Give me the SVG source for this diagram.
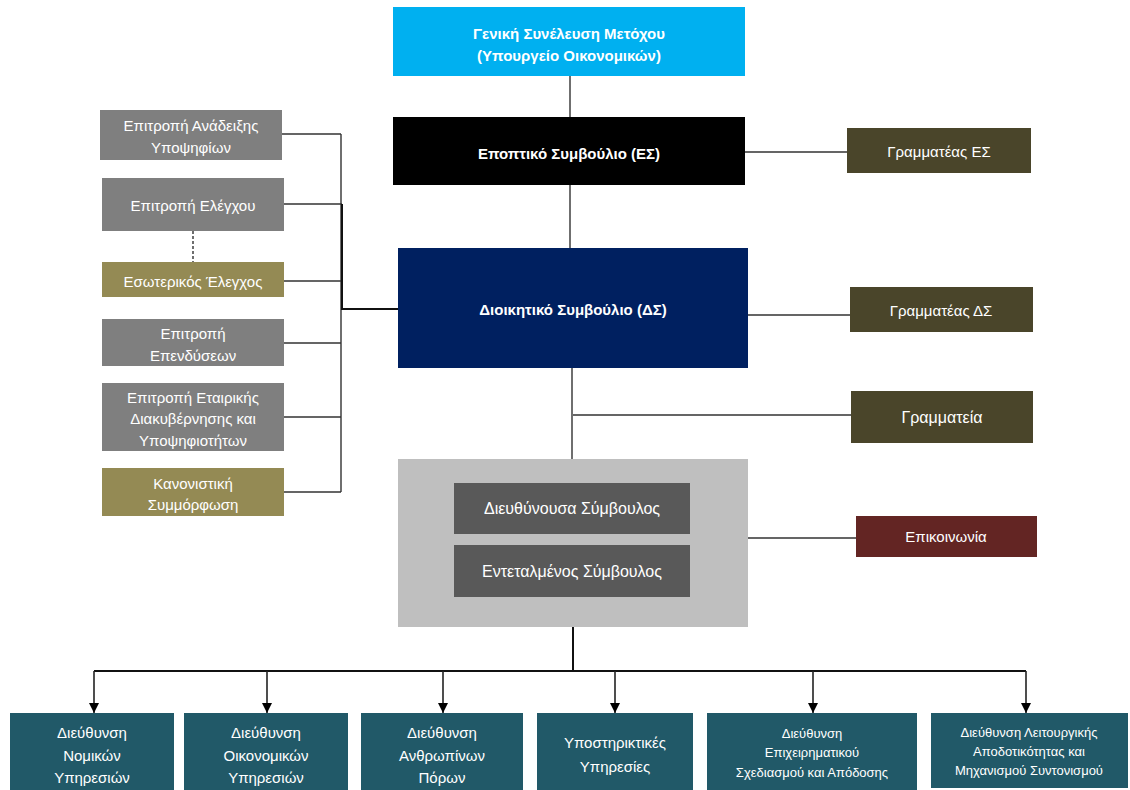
<svg xmlns="http://www.w3.org/2000/svg" width="1130" height="790" viewBox="0 0 1130 790">
<defs>
<marker id="arr" viewBox="0 0 10 10" refX="10" refY="5" markerWidth="10" markerHeight="11" markerUnits="userSpaceOnUse" orient="auto">
<path d="M0,0 L10,5 L0,10 z" fill="#000"/>
</marker>
<style>
text{font-family:"Liberation Sans",Arial,sans-serif;fill:#fff;text-anchor:middle;dominant-baseline:central}
.b{font-weight:bold;font-size:15px}
.t15{font-size:15px}
.t14{font-size:14px}
.t13{font-size:13px}
.t16{font-size:16px}
.ln{stroke:#333;stroke-width:1.4;fill:none}
.lb{stroke:#111;stroke-width:2;fill:none}
.ar{stroke:#222;stroke-width:1.6;fill:none}
.gray{fill:#7F7F7F}
.olive{fill:#948A54}
.dolive{fill:#4A452A}
.teal{fill:#215968}
.inner{fill:#595959}
</style>
</defs>
<rect width="1130" height="790" fill="#fff"/>
<g id="connectors">
<path class="ln" d="M570,76 V117 M570,185 V248 M572,368 V459 M573,415 H851 M745,152 H847 M748,315 H850 M747,538 H856"/>
<path class="ln" d="M282,134 H341 M284,204 H342 M284,281 H342 M284,343 H341 M284,417 H341 M284,492 H341 M341,134 V492"/>
<path class="lb" d="M342,204 V309 H398"/>
<path d="M193,231 V262" stroke="#333" stroke-width="1.4" stroke-dasharray="3,2"/>
<path class="lb" d="M573,627 V671 M94,671 H1026"/>
<path class="ar" d="M94,671 V713" marker-end="url(#arr)"/>
<path class="ar" d="M267,671 V713" marker-end="url(#arr)"/>
<path class="ar" d="M443,671 V713" marker-end="url(#arr)"/>
<path class="ar" d="M615,671 V713" marker-end="url(#arr)"/>
<path class="ar" d="M813,671 V713" marker-end="url(#arr)"/>
<path class="ar" d="M1026,671 V713" marker-end="url(#arr)"/>
</g>
<g id="gm">
<rect x="393" y="7" width="352" height="69" fill="#00B0F0"/>
<text class="b" x="569" y="33">Γενική Συνέλευση Μετόχου</text>
<text class="b" x="569" y="55">(Υπουργείο Οικονομικών)</text>
</g>
<g id="es">
<rect x="393" y="117" width="352" height="68" fill="#000"/>
<text class="b" x="569" y="153">Εποπτικό Συμβούλιο (ΕΣ)</text>
</g>
<g id="gram-es">
<rect class="dolive" x="847" y="128" width="184" height="45"/>
<text class="t15" x="939" y="151">Γραμματέας ΕΣ</text>
</g>
<g id="ds">
<rect x="398" y="248" width="350" height="120" fill="#002060"/>
<text class="b" x="573" y="309">Διοικητικό Συμβούλιο (ΔΣ)</text>
</g>
<g id="gram-ds">
<rect class="dolive" x="850" y="287" width="183" height="45"/>
<text class="t15" x="941" y="310">Γραμματέας ΔΣ</text>
</g>
<g id="grammateia">
<rect class="dolive" x="851" y="391" width="182" height="52"/>
<text class="t16" x="942" y="417">Γραμματεία</text>
</g>
<g id="ceo-group">
<rect x="398" y="459" width="350" height="168" fill="#BFBFBF"/>
</g>
<g id="ceo">
<rect class="inner" x="454" y="483" width="236" height="51"/>
<text class="t16" x="572" y="508">Διευθύνουσα Σύμβουλος</text>
</g>
<g id="deputy">
<rect class="inner" x="454" y="545" width="236" height="52"/>
<text class="t16" x="572" y="571">Εντεταλμένος Σύμβουλος</text>
</g>
<g id="epikoinonia">
<rect x="856" y="516" width="181" height="41" fill="#632523"/>
<text class="t15" x="946" y="536">Επικοινωνία</text>
</g>
<g id="anadeixi">
<rect class="gray" x="100" y="110" width="182" height="50"/>
<text class="t15" x="191" y="125">Επιτροπή Ανάδειξης</text>
<text class="t15" x="191" y="147">Υποψηφίων</text>
</g>
<g id="elegxou">
<rect class="gray" x="102" y="178" width="182" height="53"/>
<text class="t15" x="193" y="205">Επιτροπή Ελέγχου</text>
</g>
<g id="esoterikos">
<rect class="olive" x="102" y="262" width="182" height="35"/>
<text class="t15" x="193" y="281">Εσωτερικός Έλεγχος</text>
</g>
<g id="ependyseon">
<rect class="gray" x="102" y="319" width="182" height="47"/>
<text class="t15" x="193" y="333">Επιτροπή</text>
<text class="t15" x="193" y="355">Επενδύσεων</text>
</g>
<g id="etairikis">
<rect class="gray" x="102" y="383" width="182" height="68"/>
<text class="t15" x="193" y="397">Επιτροπή Εταιρικής</text>
<text class="t15" x="193" y="418">Διακυβέρνησης και</text>
<text class="t15" x="193" y="440">Υποψηφιοτήτων</text>
</g>
<g id="kanonistiki">
<rect class="olive" x="102" y="468" width="182" height="48"/>
<text class="t15" x="193" y="483">Κανονιστική</text>
<text class="t15" x="193" y="504">Συμμόρφωση</text>
</g>
<g id="nomikon">
<rect class="teal" x="10" y="713" width="164" height="77"/>
<text class="t15" x="92" y="732">Διεύθυνση</text>
<text class="t15" x="92" y="755">Νομικών</text>
<text class="t15" x="92" y="777">Υπηρεσιών</text>
</g>
<g id="oikonomikon">
<rect class="teal" x="184" y="713" width="164" height="77"/>
<text class="t15" x="266" y="732">Διεύθυνση</text>
<text class="t15" x="266" y="755">Οικονομικών</text>
<text class="t15" x="266" y="777">Υπηρεσιών</text>
</g>
<g id="anthropinon">
<rect class="teal" x="361" y="713" width="162" height="77"/>
<text class="t15" x="442" y="732">Διεύθυνση</text>
<text class="t15" x="442" y="755">Ανθρωπίνων</text>
<text class="t15" x="442" y="777">Πόρων</text>
</g>
<g id="ypostiriktikes">
<rect class="teal" x="537" y="713" width="156" height="77"/>
<text class="t15" x="615" y="742">Υποστηρικτικές</text>
<text class="t15" x="615" y="766">Υπηρεσίες</text>
</g>
<g id="epixeirimatikou">
<rect class="teal" x="707" y="713" width="210" height="77"/>
<text class="t13" x="812" y="733">Διεύθυνση</text>
<text class="t13" x="812" y="752">Επιχειρηματικού</text>
<text class="t13" x="812" y="772">Σχεδιασμού και Απόδοσης</text>
</g>
<g id="leitourgikis">
<rect class="teal" x="931" y="713" width="197" height="75"/>
<text class="t13" x="1029" y="732">Διεύθυνση Λειτουργικής</text>
<text class="t13" x="1029" y="751">Αποδοτικότητας και</text>
<text class="t13" x="1029" y="770">Μηχανισμού Συντονισμού</text>
</g>
</svg>
